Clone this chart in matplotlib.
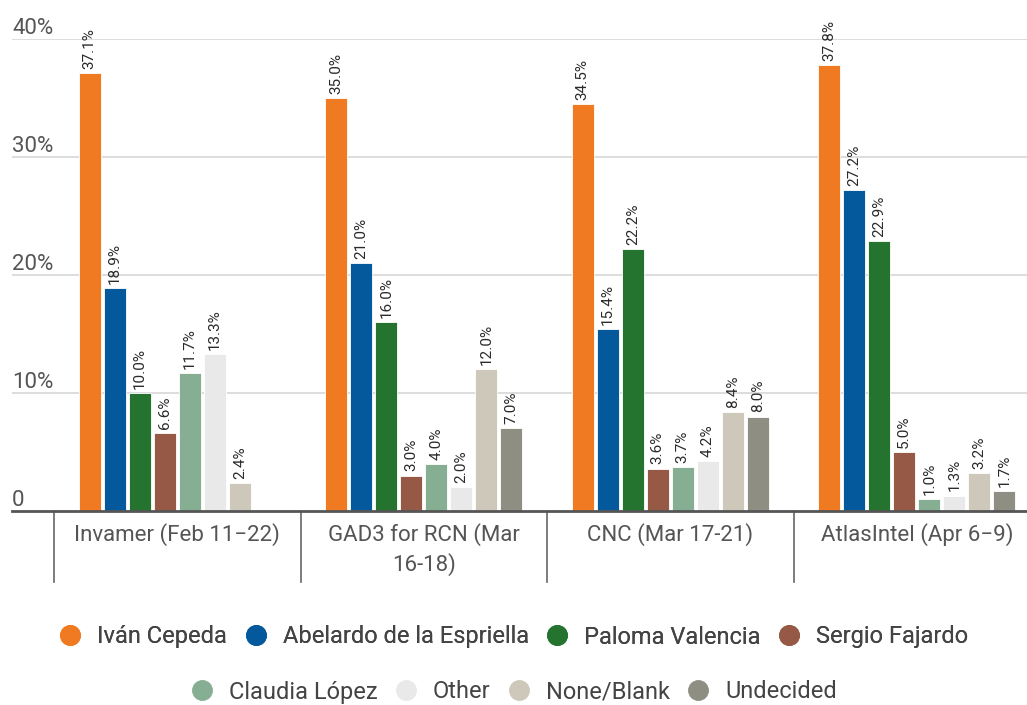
import matplotlib
matplotlib.use("Agg")
import matplotlib.pyplot as plt
import matplotlib.transforms as mtransforms
from matplotlib.lines import Line2D
import numpy as np

plt.rcParams['font.family'] = ['Roboto', 'DejaVu Sans']

categories = ["Invamer (Feb 11\u221222)", "GAD3 for RCN (Mar\n16-18)", "CNC (Mar 17-21)", "AtlasIntel (Apr 6\u22129)"]
series_names = ["Iván Cepeda", "Abelardo de la Espriella", "Paloma Valencia", "Sergio Fajardo",
                "Claudia López", "Other", "None/Blank", "Undecided"]
cepeda = [37.1, 35.0, 34.5, 37.8]
espriella = [18.9, 21.0, 15.4, 27.2]
valencia = [10.0, 16.0, 22.2, 22.9]
fajardo = [6.6, 3.0, 3.6, 5.0]
lopez = [11.7, 4.0, 3.7, 1.0]
other = [13.3, 2.0, 4.2, 1.3]
none_blank = [2.4, 12.0, 8.4, 3.2]
undecided = [None, 7.0, 8.0, 1.7]
series_values = [cepeda, espriella, valencia, fajardo, lopez, other, none_blank, undecided]
colors = ["#F07A22", "#03599B", "#24732F", "#955946", "#86AE92", "#E9E9E9", "#CEC8BA", "#8E8E83"]
yticks = [0, 10, 20, 30, 40]
ytick_labels = ["0", "10%", "20%", "30%", "40%"]

W, H = 1027, 705
fig = plt.figure(figsize=(W / 100, H / 100), dpi=100)
ax_left, ax_right = 12, 1027
ax_bottom_px, ax_top_px = 511, 39
ax = fig.add_axes([ax_left / W, 1 - ax_bottom_px / H, (ax_right - ax_left) / W, (ax_bottom_px - ax_top_px) / H])

cat_w = 246.5
ax.set_xlim(-0.5 - (54 - ax_left) / cat_w, -0.5 + (ax_right - 54) / cat_w)
ax.set_ylim(0, 40)

step = 25 / cat_w
bw = 22 / cat_w
x = np.arange(len(categories))
for j, (vals, col) in enumerate(zip(series_values, colors)):
    for i, v in enumerate(vals):
        if v is None:
            continue
        xc = x[i] + (j - 3.5) * step
        ax.bar(xc, v, width=bw, color=col, edgecolor="white", linewidth=0.6, zorder=3)
        ax.annotate(f"{v:.1f}%", (xc, v), xytext=(0, 3), textcoords="offset points",
                    rotation=90, ha="center", va="bottom", fontsize=11, color="#2a2a2a",
                    annotation_clip=False, zorder=4)

# gridlines
for t in yticks[1:]:
    ax.axhline(t, color="#DADADA", lw=1.3, zorder=1)
ax.axhline(0, color="#555555", lw=2, zorder=5, clip_on=False)

trans_y = mtransforms.blended_transform_factory(ax.transAxes, ax.transData)
for t, lab in zip(yticks, ytick_labels):
    ax.text(0.0, t, lab, transform=trans_y, ha="left", va="bottom", fontsize=16,
            color="#555555")

# category separators
trans_x = mtransforms.blended_transform_factory(ax.transData, ax.transAxes)
sep_len = (582 - ax_bottom_px) / (ax_bottom_px - ax_top_px)
for b in np.arange(len(categories) + 1) - 0.5:
    ax.add_line(Line2D([b, b], [0, -sep_len], transform=trans_x, color="#666666",
                       lw=1.2, clip_on=False))

ax.set_xticks(x)
ax.set_xticklabels(categories, fontsize=16, color="#555555", linespacing=1.35, va="top")
ax.tick_params(axis="x", length=0, pad=9)
ax.set_yticks([])
for s in ax.spines.values():
    s.set_visible(False)

handles = [Line2D([0], [0], marker="o", linestyle="none", markersize=14,
                  markerfacecolor=c, markeredgecolor=c) for c in colors]
leg_kw = dict(loc="center", ncol=4, frameon=False, fontsize=17, handletextpad=0.65,
              columnspacing=0.7, handlelength=1.0, labelcolor="#444444")
leg1 = fig.legend(handles[:4], series_names[:4], bbox_to_anchor=(0.5, 1 - 637 / H), **leg_kw)
leg2 = fig.legend(handles[4:], series_names[4:], bbox_to_anchor=(0.5, 1 - 692 / H), **leg_kw)
fig.add_artist(leg1)

fig.savefig("out.png", dpi=100)
